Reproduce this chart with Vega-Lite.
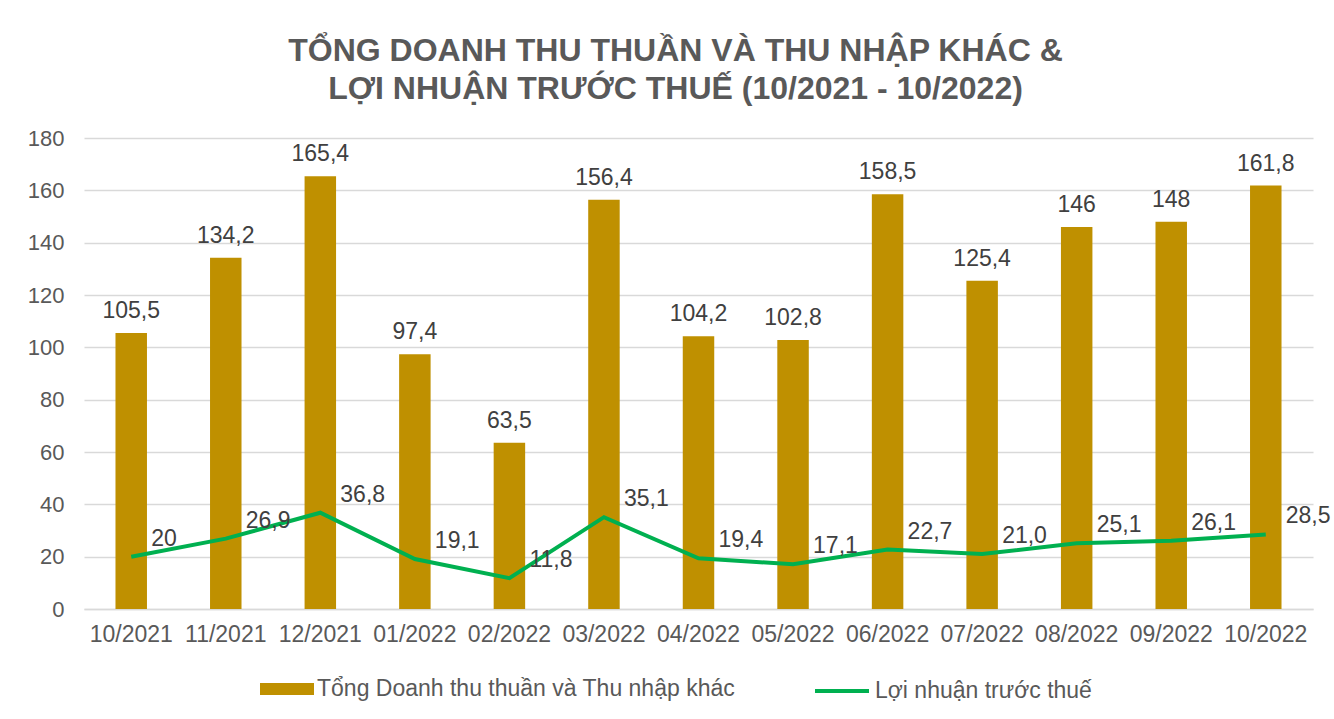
{
  "$schema": "https://vega.github.io/schema/vega-lite/v6.json",
  "width": 1229,
  "height": 471,
  "autosize": {"type": "none"},
  "padding": {"left": 84, "top": 138, "right": 21, "bottom": 110},
  "background": "#ffffff",
  "title": {
    "text": ["TỔNG DOANH THU THUẦN VÀ THU NHẬP KHÁC &", "LỢI NHUẬN TRƯỚC THUẾ (10/2021 - 10/2022)"],
    "font": "Liberation Sans",
    "fontSize": 32,
    "fontWeight": "bold",
    "color": "#595959",
    "anchor": "middle",
    "frame": "group",
    "dx": -23,
    "lineHeight": 38,
    "offset": 21
  },
  "config": {
    "font": "Liberation Sans",
    "view": {"stroke": null},
    "axis": {"labelFont": "Liberation Sans", "labelColor": "#595959"},
    "legend": {"labelFont": "Liberation Sans", "labelColor": "#595959", "labelFontSize": 23, "labelLimit": 700}
  },
  "data": {
    "values": [
      {"month": "10/2021", "revenue": 105.5, "rev_label": "105,5", "profit": 20.0, "profit_label": "20"},
      {"month": "11/2021", "revenue": 134.2, "rev_label": "134,2", "profit": 26.9, "profit_label": "26,9"},
      {"month": "12/2021", "revenue": 165.4, "rev_label": "165,4", "profit": 36.8, "profit_label": "36,8"},
      {"month": "01/2022", "revenue": 97.4, "rev_label": "97,4", "profit": 19.1, "profit_label": "19,1"},
      {"month": "02/2022", "revenue": 63.5, "rev_label": "63,5", "profit": 11.8, "profit_label": "11,8"},
      {"month": "03/2022", "revenue": 156.4, "rev_label": "156,4", "profit": 35.1, "profit_label": "35,1"},
      {"month": "04/2022", "revenue": 104.2, "rev_label": "104,2", "profit": 19.4, "profit_label": "19,4"},
      {"month": "05/2022", "revenue": 102.8, "rev_label": "102,8", "profit": 17.1, "profit_label": "17,1"},
      {"month": "06/2022", "revenue": 158.5, "rev_label": "158,5", "profit": 22.7, "profit_label": "22,7"},
      {"month": "07/2022", "revenue": 125.4, "rev_label": "125,4", "profit": 21.0, "profit_label": "21,0"},
      {"month": "08/2022", "revenue": 146.0, "rev_label": "146", "profit": 25.1, "profit_label": "25,1"},
      {"month": "09/2022", "revenue": 148.0, "rev_label": "148", "profit": 26.1, "profit_label": "26,1"},
      {"month": "10/2022", "revenue": 161.8, "rev_label": "161,8", "profit": 28.5, "profit_label": "28,5"}
    ]
  },
  "encoding": {
    "x": {
      "field": "month",
      "type": "ordinal",
      "sort": null,
      "scale": {"paddingInner": 0.667, "paddingOuter": 0.333},
      "axis": {
        "title": null,
        "labelAngle": 0,
        "labelFontSize": 23,
        "labelPadding": 14,
        "ticks": false,
        "domainColor": "#d9d9d9",
        "domainWidth": 1.5,
        "grid": false
      }
    }
  },
  "layer": [
    {
      "mark": {"type": "bar"},
      "encoding": {
        "y": {
          "field": "revenue",
          "type": "quantitative",
          "scale": {"domain": [0, 180], "nice": false},
          "axis": {
            "title": null,
            "values": [0, 20, 40, 60, 80, 100, 120, 140, 160, 180],
            "labelFontSize": 22,
            "labelPadding": 20,
            "ticks": false,
            "domain": false,
            "grid": true,
            "gridColor": "#d9d9d9",
            "gridWidth": 1.5
          }
        },
        "fill": {
          "datum": "Tổng Doanh thu thuần và Thu nhập khác",
          "scale": {"range": ["#BF9000"]},
          "legend": {
            "title": null,
            "orient": "none",
            "legendX": 176,
            "legendY": 524,
            "symbolType": "M-1,-0.222H1V0.222H-1Z",
            "symbolSize": 2916,
            "symbolStrokeWidth": 0,
            "labelOffset": 3
          }
        }
      }
    },
    {
      "mark": {"type": "text", "fontSize": 23, "color": "#404040", "baseline": "alphabetic", "dy": -15},
      "encoding": {
        "y": {"field": "revenue", "type": "quantitative"},
        "text": {"field": "rev_label"}
      }
    },
    {
      "mark": {"type": "line", "strokeWidth": 4},
      "encoding": {
        "y": {"field": "profit", "type": "quantitative"},
        "stroke": {
          "datum": "Lợi nhuận trước thuế",
          "scale": {"range": ["#00B050"]},
          "legend": {
            "title": null,
            "orient": "none",
            "legendX": 729,
            "legendY": 524,
            "symbolType": "stroke",
            "symbolSize": 2916,
            "symbolStrokeWidth": 4,
            "labelOffset": 4
          }
        }
      }
    },
    {
      "mark": {"type": "text", "fontSize": 23, "color": "#404040", "align": "left", "baseline": "middle", "dx": 20, "dy": -18},
      "encoding": {
        "y": {"field": "profit", "type": "quantitative"},
        "text": {"field": "profit_label"}
      }
    }
  ]
}
